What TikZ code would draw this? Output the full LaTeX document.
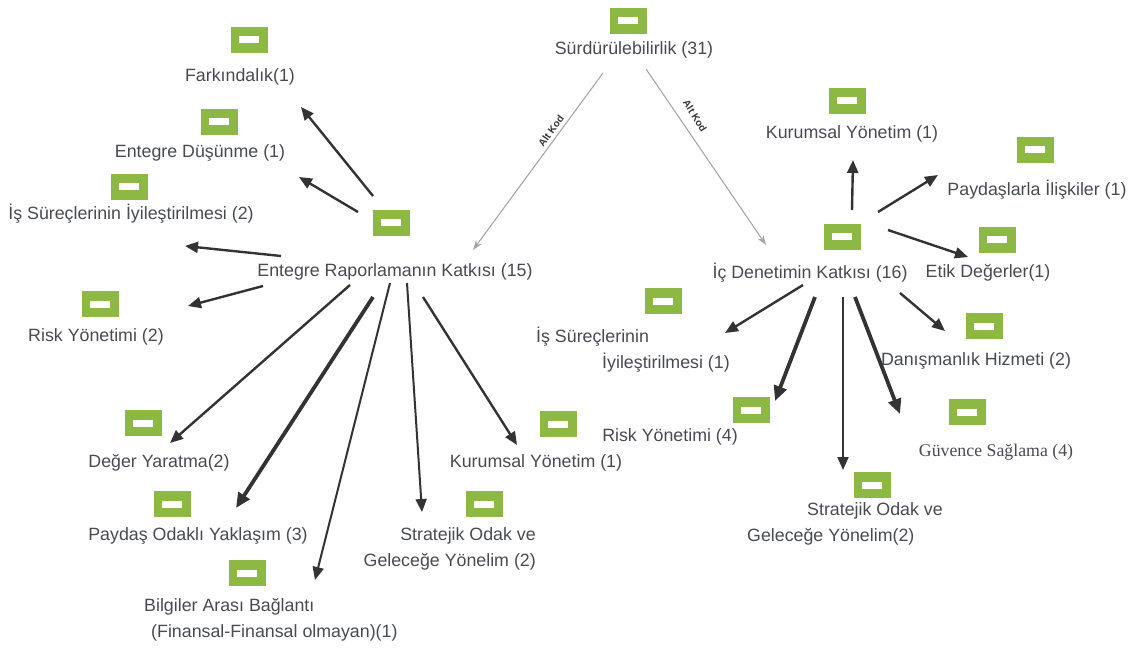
\documentclass[tikz,border=0pt]{standalone}
\usepackage{fontspec}
\setmainfont{Liberation Sans}
\newfontfamily\serifface{Liberation Serif}
\usetikzlibrary{arrows.meta}
\definecolor{iconGreen}{HTML}{8DB843}
\definecolor{txtGray}{HTML}{484A52}
\definecolor{arrGray}{HTML}{333333}
\definecolor{altGray}{HTML}{A6A6A6}
\begin{document}
\begin{tikzpicture}[x=1pt,y=-1pt,
  icon/.style={fill=iconGreen,minimum width=37pt,minimum height=26pt,inner sep=0pt,
    path picture={\fill[white] ([xshift=-10pt,yshift=-3.5pt]path picture bounding box.center) rectangle ++(20pt,7pt);}},
  lbl/.style={text=txtGray,inner sep=0pt,font=\fontsize{17.8}{26}\selectfont},
  arr/.style={draw=arrGray,line width=2.4pt,-{Triangle[length=13pt,width=11pt]}},
  thick arr/.style={arr,line width=3.8pt,-{Triangle[length=15pt,width=13pt]}},
  thin arr/.style={arr,line width=2pt},
  altarr/.style={draw=altGray,line width=1.1pt,-{Stealth[length=10pt,width=7pt]}},
  altlbl/.style={text=arrGray,font=\bfseries\fontsize{10}{11}\selectfont,inner sep=0pt}]
\useasboundingbox (0,0) rectangle (1134,652);
% ---------- nodes: root ----------
\node[icon] (i-sur) at (628,21) {};
\node[lbl] (t-sur) at (634,50) {Sürdürülebilirlik (31)};
% ---------- left hub ----------
\node[icon] (i-er) at (391,223) {};
\node[lbl] (t-er) at (395,272) {Entegre Raporlamanın Katkısı (15)};
\node[icon] (i-fark) at (249,40) {};
\node[lbl] (t-fark) at (240,77) {Farkındalık(1)};
\node[icon] (i-ed) at (219,122) {};
\node[lbl] (t-ed) at (200,153) {Entegre Düşünme (1)};
\node[icon] (i-isl) at (129,187) {};
\node[lbl] (t-isl) at (131,214) {İş Süreçlerinin İyileştirilmesi (2)};
\node[icon] (i-rl) at (100,304) {};
\node[lbl] (t-rl) at (96,337) {Risk Yönetimi (2)};
\node[icon] (i-dy) at (143,423) {};
\node[lbl] (t-dy) at (159,463) {Değer Yaratma(2)};
\node[icon] (i-po) at (172,504) {};
\node[lbl] (t-po) at (198,536) {Paydaş Odaklı Yaklaşım (3)};
\node[icon] (i-bab) at (247,573) {};
\node[lbl,align=left,anchor=west] (t-bab) at (144,620) {Bilgiler Arası Bağlantı\\\hspace*{7pt}(Finansal-Finansal olmayan)(1)};
\node[icon] (i-sol) at (484,504) {};
\node[lbl,align=right,anchor=east] (t-sol) at (536,549) {Stratejik Odak ve\\Geleceğe Yönelim (2)};
\node[icon] (i-kyl) at (558,424) {};
\node[lbl] (t-kyl) at (536,463) {Kurumsal Yönetim (1)};
% ---------- right hub ----------
\node[icon] (i-id) at (842,237) {};
\node[lbl] (t-id) at (810,273) {İç Denetimin Katkısı (16)};
\node[icon] (i-kyr) at (847,101) {};
\node[lbl] (t-kyr) at (852,134) {Kurumsal Yönetim (1)};
\node[icon] (i-pi) at (1035,150) {};
\node[lbl] (t-pi) at (1037,190) {Paydaşlarla İlişkiler (1)};
\node[icon] (i-ed2) at (997,240) {};
\node[lbl] (t-ed2) at (988,273) {Etik Değerler(1)};
\node[icon] (i-dh) at (984,326) {};
\node[lbl] (t-dh) at (976,361) {Danışmanlık Hizmeti (2)};
\node[icon] (i-gs) at (967,412) {};
\node[lbl,font=\serifface\fontsize{17.8}{26}\selectfont] (t-gs) at (996,452) {Güvence Sağlama (4)};
\node[icon] (i-isr) at (663,301) {};
\node[lbl,align=left,anchor=west] (t-isr) at (536,350) {İş Süreçlerinin\\\hspace*{66pt}İyileştirilmesi (1)};
\node[icon] (i-rr) at (751,410) {};
\node[lbl] (t-rr) at (670,437) {Risk Yönetimi (4)};
\node[icon] (i-sor) at (872,485) {};
\node[lbl,align=left,anchor=west] (t-sor) at (747,524) {\hspace*{60pt}Stratejik Odak ve\\Geleceğe Yönelim(2)};
% ---------- connector end points ----------
\coordinate (a-l0) at (603,73);  \coordinate (a-l1) at (473,250);
\coordinate (a-r0) at (646,69);  \coordinate (a-r1) at (766,245);
\coordinate (l-fark) at (301,107);
\coordinate (l-ed) at (299,177);
\coordinate (l-isl) at (185,246);
\coordinate (l-rl) at (188,306);
\coordinate (l-dy) at (170,443);
\coordinate (l-po) at (236,508);
\coordinate (l-bab) at (315,580);
\coordinate (l-sol) at (422,512);
\coordinate (l-kyl) at (517,445);
\coordinate (r-kyr) at (853,160);
\coordinate (r-pi) at (938,175);
\coordinate (r-ed2) at (968,257);
\coordinate (r-dh) at (945,331);
\coordinate (r-gs) at (900,414);
\coordinate (r-sor) at (843,470);
\coordinate (r-rr) at (775,401);
\coordinate (r-isr) at (725,333);
% ---------- Alt Kod ----------
\draw[altarr] (a-l0) -- (a-l1);
\draw[altarr] (a-r0) -- (a-r1);
\node[altlbl,rotate=54] (k-l) at (551,131) {Alt Kod};
\node[altlbl,rotate=-58] (k-r) at (695,116) {Alt Kod};
% ---------- left hub arrows ----------
\draw[arr] (373,196) -- (l-fark);
\draw[arr] (358,212) -- (l-ed);
\draw[arr] (281,256) -- (l-isl);
\draw[arr] (263,286) -- (l-rl);
\draw[arr] (350,285) -- (l-dy);
\draw[thick arr] (373,297) -- (l-po);
\draw[thin arr] (390,283) -- (l-bab);
\draw[thin arr] (407,283) -- (l-sol);
\draw[arr] (423,297) -- (l-kyl);
% ---------- right hub arrows ----------
\draw[arr] (852,210) -- (r-kyr);
\draw[arr] (878,212) -- (r-pi);
\draw[arr] (888,230) -- (r-ed2);
\draw[arr] (900,293) -- (r-dh);
\draw[thick arr] (855,297) -- (r-gs);
\draw[thin arr] (843,297) -- (r-sor);
\draw[thick arr] (815,297) -- (r-rr);
\draw[arr] (803,285) -- (r-isr);
\end{tikzpicture}
\end{document}
